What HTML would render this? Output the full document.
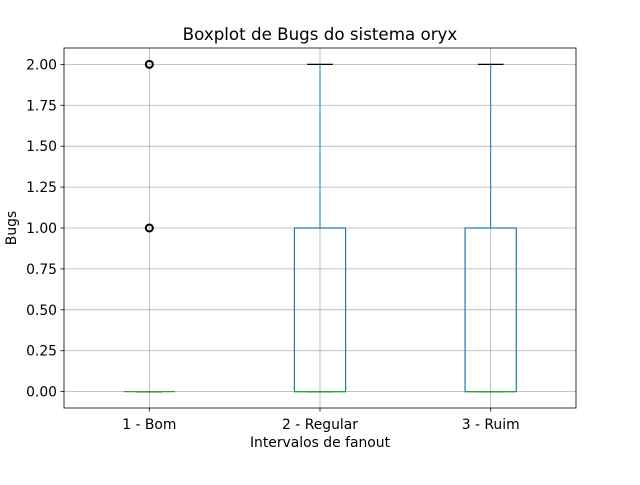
<!DOCTYPE html>
<html><head><meta charset="utf-8"><style>
body{margin:0;background:#fff}
svg text{font-family:"DejaVu Sans","Liberation Sans",sans-serif;fill:#000}
</style></head><body>
<svg id="chart" width="640" height="480" xmlns="http://www.w3.org/2000/svg"></svg>
<script>
const categories=["1 - Bom","2 - Regular","3 - Ruim"];
const q1=[0,0,0];
const medians=[0,0,0];
const q3=[0,1,1];
const whiskerLow=[0,0,0];
const whiskerHigh=[0,2,2];
const fliers=[[1,2],[],[]];
const yTicks=[0,0.25,0.5,0.75,1,1.25,1.5,1.75,2];
const yTickLabels=["0.00","0.25","0.50","0.75","1.00","1.25","1.50","1.75","2.00"];

const L=64,R=576,T=48,B=408,ymin=-0.1,ymax=2.1;
const sx=i=>L+(i+1-0.5)/3*(R-L);
const sy=v=>B-(v-ymin)/(ymax-ymin)*(B-T);
const svg=document.getElementById('chart');
const NS="http://www.w3.org/2000/svg";
function mk(tag,attrs,parent){const e=document.createElementNS(NS,tag);for(const k in attrs)e.setAttribute(k,attrs[k]);(parent||svg).appendChild(e);return e;}

yTicks.forEach((v,i)=>{
  const g=mk('line',{x1:L,x2:R,y1:sy(v),y2:sy(v),stroke:'#b0b0b0','stroke-width':0.8});
  
  
  const t=mk('line',{x1:L-3.5,x2:L,y1:sy(v),y2:sy(v),stroke:'#000','stroke-width':0.8});
  
  
  const lb=mk('text',{x:L-7,y:sy(v)+5,'text-anchor':'end','font-size':13.9});
  lb.textContent=yTickLabels[i];
  
  
});
categories.forEach((c,i)=>{
  const x=sx(i);
  const g=mk('line',{x1:x,x2:x,y1:T,y2:B,stroke:'#b0b0b0','stroke-width':0.8});
  
  
  const t=mk('line',{x1:x,x2:x,y1:B,y2:B+3.5,stroke:'#000','stroke-width':0.8});
  
  
  const lb=mk('text',{x:x,y:B+21,'text-anchor':'middle','font-size':13.9});
  lb.textContent=c;
  
  
});
const bw=0.3*(R-L)/3, cw=bw/2;
categories.forEach((c,i)=>{
  const x=sx(i);
  const g=mk('g',{});
  
  
  mk('line',{x1:x,x2:x,y1:sy(q3[i]),y2:sy(whiskerHigh[i]),stroke:'#1f77b4','stroke-width':1},g);
  mk('line',{x1:x,x2:x,y1:sy(q1[i]),y2:sy(whiskerLow[i]),stroke:'#1f77b4','stroke-width':1},g);
  mk('line',{x1:x-cw/2,x2:x+cw/2,y1:sy(whiskerHigh[i]),y2:sy(whiskerHigh[i]),stroke:'#000','stroke-width':1.2},g);
  mk('line',{x1:x-cw/2,x2:x+cw/2,y1:sy(whiskerLow[i]),y2:sy(whiskerLow[i]),stroke:'#000','stroke-width':1.2},g);
  mk('rect',{x:x-bw/2,y:sy(q3[i]),width:bw,height:Math.max(0,sy(q1[i])-sy(q3[i])),fill:'none',stroke:'#1f77b4','stroke-width':1.2},g);
  mk('line',{x1:x-bw/2,x2:x+bw/2,y1:sy(medians[i]),y2:sy(medians[i]),stroke:'#2ca02c','stroke-width':1.2},g);
  fliers[i].forEach(v=>{
    const f=mk('circle',{cx:x,cy:sy(v),r:3.5,fill:'none',stroke:'#000','stroke-width':2},g);
    
    
  });
});
const fr=mk('rect',{x:L,y:T,width:R-L,height:B-T,fill:'none',stroke:'#000','stroke-width':0.8});


const tt=mk('text',{x:320,y:40,'text-anchor':'middle','font-size':16.7});
tt.textContent='Boxplot de Bugs do sistema oryx';


const xt=mk('text',{x:320,y:447,'text-anchor':'middle','font-size':13.9});
xt.textContent='Intervalos de fanout';


const yt=mk('text',{x:16,y:228,'text-anchor':'middle','font-size':13.9,transform:'rotate(-90 16 228)'});
yt.textContent='Bugs';


</script>
</body></html>
